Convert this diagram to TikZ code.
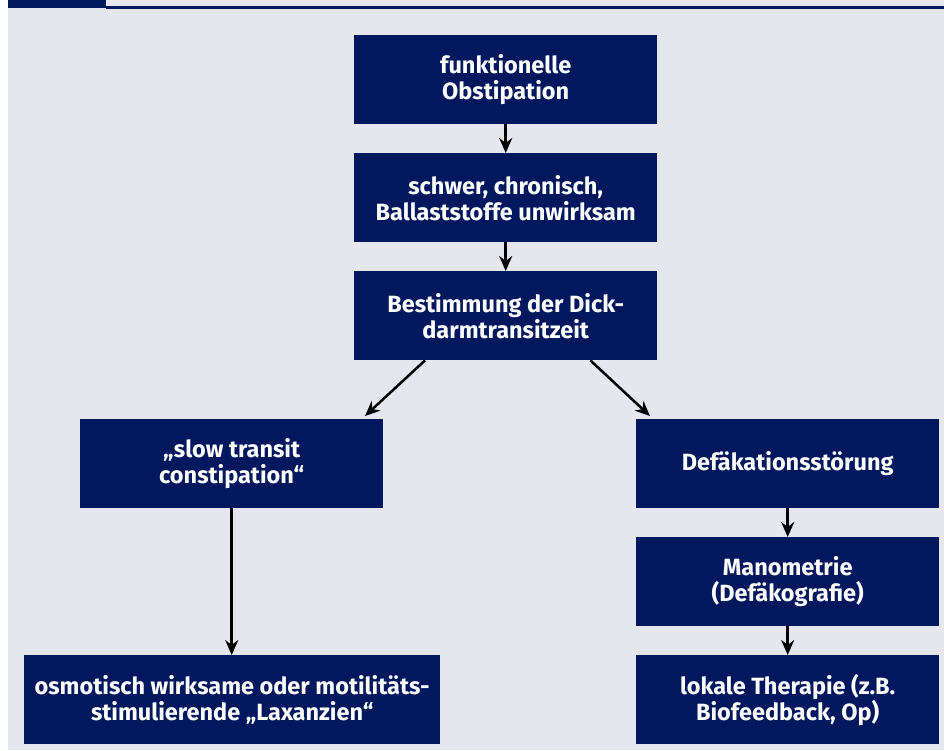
\documentclass[tikz,border=0pt]{standalone}
\usepackage{fontspec}
\setmainfont{Fira Sans}
\usetikzlibrary{arrows.meta,calc}
\definecolor{navy}{RGB}{2,24,94}
\definecolor{bgc}{RGB}{230,231,238}
\begin{document}
\begin{tikzpicture}[x=1pt,y=-1pt,
  box/.style={fill=navy, text=white, font=\bfseries\fontsize{23.5}{26}\selectfont,
    align=center, minimum width=303pt, minimum height=89pt, inner sep=0pt, anchor=north west},
  widebox/.style={box, minimum width=416pt},
  arr/.style={-{Stealth[length=15pt,width=13pt,inset=5pt]}, line width=2.5pt, black}]
\useasboundingbox (0,0) rectangle (944,750);
\fill[bgc] (8,0) rectangle (944,750);
\fill[navy] (8,0) rectangle (106,8);
\fill[navy] (106,6) rectangle (944,8.5);
\node[box] (b1) at (354,35) {funktionelle\\Obstipation};
\node[box] (b2) at (354,153) {schwer, chronisch,\\Ballaststoffe unwirksam};
\node[box] (b3) at (354,271) {Bestimmung der Dick-\\darmtransitzeit};
\node[box] (b4) at (80,419) {„slow transit\\constipation“};
\node[box] (b5) at (636,419) {Defäkationsstörung};
\node[box] (b6) at (636,537) {Manometrie\\(Defäkografie)};
\node[widebox] (b7) at (24,655) {osmotisch wirksame oder motilitäts-\\stimulierende „Laxanzien“};
\node[box] (b8) at (636,655) {lokale Therapie (z.B.\\Biofeedback, Op)};
\coordinate (t4) at (365,416);
\coordinate (t5) at (650,416);
\draw[arr] (b1) -- (b2);
\draw[arr] (b2) -- (b3);
\draw[arr] ([xshift=71pt]b3.south west) -- (t4);
\draw[arr] ([xshift=-67pt]b3.south east) -- (t5);
\draw[arr] (b4.south) -- (b4.south |- b7.north);
\draw[arr] (b5) -- (b6);
\draw[arr] (b6) -- (b8);
\end{tikzpicture}
\end{document}
